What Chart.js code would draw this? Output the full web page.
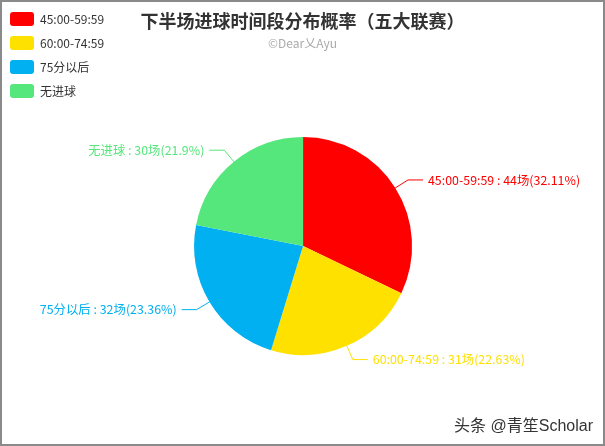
<!DOCTYPE html>
<html>
<head>
<meta charset="utf-8">
<script src="https://cdn.jsdelivr.net/npm/chart.js@4.4.1/dist/chart.umd.min.js"></script>
<style>
  html, body { margin: 0; padding: 0; background: #fff; }
  #wrap { position: relative; width: 605px; height: 446px; overflow: hidden; }
  #frame { position: absolute; left: 0; top: 0; width: 605px; height: 446px; box-sizing: border-box; border: 2px solid #8a8a8a; pointer-events: none; }
  #mark { position: absolute; right: 12px; bottom: 10px; font-family: "Liberation Sans", "Noto Sans CJK SC", sans-serif; font-size: 16px; color: #333; }
</style>
</head>
<body>
<div id="wrap">
  <canvas id="c" width="605" height="446"></canvas>
  <div id="frame"></div>
  <div id="mark">头条 @青笙Scholar</div>
</div>
<script>
const categories = ["45:00-59:59", "60:00-74:59", "75分以后", "无进球"];
const matchCounts = [44, 31, 32, 30];
const percentLabels = ["32.11", "22.63", "23.36", "21.9"];
const sliceColors = ["#ff0000", "#ffe100", "#00b0f0", "#55e67c"];
const titleText = "下半场进球时间段分布概率（五大联赛）";
const subtitleText = "©Dear乂Ayu";

const FONT = '"Noto Sans CJK SC", "Microsoft YaHei", "Noto Sans", sans-serif';
const RIGHT_SPACE = 113;

// empty layout box on the right to balance the legend on the left
const rightSpacer = {
  id: 'rightSpacer',
  beforeInit(chart) {
    const box = {
      position: 'right',
      weight: 0,
      fullSize: true,
      options: {},
      width: 0, height: 0, left: 0, top: 0, right: 0, bottom: 0,
      isHorizontal() { return false; },
      getPadding() { return { left: 0, top: 0, right: 0, bottom: 0 }; },
      update(maxWidth, maxHeight) { this.width = RIGHT_SPACE; this.height = maxHeight; },
      draw() {}
    };
    Chart.layouts.addBox(chart, box);
  }
};

const pieLabels = {
  id: 'pieLabels',
  afterDatasetsDraw(chart) {
    const ctx = chart.ctx;
    const meta = chart.getDatasetMeta(0);
    ctx.save();
    ctx.font = '12.4px ' + FONT;
    ctx.textBaseline = 'middle';
    meta.data.forEach((arc, i) => {
      const p = arc.getProps(['x', 'y', 'startAngle', 'endAngle', 'outerRadius'], true);
      const mid = (p.startAngle + p.endAngle) / 2;
      const dx = Math.cos(mid), dy = Math.sin(mid);
      const x0 = p.x + dx * p.outerRadius, y0 = p.y + dy * p.outerRadius;
      const x1 = p.x + dx * (p.outerRadius + 15), y1 = p.y + dy * (p.outerRadius + 15);
      const side = dx >= 0 ? 1 : -1;
      const x2 = x1 + side * 15;
      ctx.strokeStyle = sliceColors[i];
      ctx.lineWidth = 1;
      ctx.beginPath();
      ctx.moveTo(x0, y0);
      ctx.lineTo(x1, y1);
      ctx.lineTo(x2, y1);
      ctx.stroke();
      ctx.fillStyle = sliceColors[i];
      ctx.textAlign = side > 0 ? 'left' : 'right';
      const txt = categories[i] + ' : ' + matchCounts[i] + '场(' + percentLabels[i] + '%)';
      ctx.fillText(txt, x2 + side * 5, y1);
    });
    ctx.restore();
  }
};

new Chart(document.getElementById('c'), {
  type: 'pie',
  data: {
    labels: categories,
    datasets: [{
      data: matchCounts,
      backgroundColor: sliceColors,
      borderWidth: 0,
      radius: 109
    }]
  },
  options: {
    responsive: false,
    animation: false,
    devicePixelRatio: 1,
    layout: { padding: { top: 2, left: 0, right: 0, bottom: 15 } },
    plugins: {
      tooltip: { enabled: false },
      title: {
        display: true,
        text: titleText,
        color: '#333',
        font: { family: FONT, size: 18, weight: 'bold' },
        padding: { top: 8, bottom: 5 }
      },
      subtitle: {
        display: true,
        text: subtitleText,
        color: '#aaa',
        font: { family: FONT, size: 12 },
        padding: { top: 0, bottom: 10 }
      },
      legend: {
        position: 'left',
        align: 'start',
        fullSize: true,
        labels: {
          boxWidth: 24,
          boxHeight: 14,
          padding: 10,
          color: '#333',
          font: { family: FONT, size: 12 },
          generateLabels(chart) {
            return categories.map((c, i) => ({
              text: c,
              fillStyle: sliceColors[i],
              strokeStyle: sliceColors[i],
              lineWidth: 0,
              borderRadius: 3,
              hidden: false,
              index: i,
              fontColor: '#333'
            }));
          }
        }
      }
    }
  },
  plugins: [rightSpacer, pieLabels]
});
</script>
</body>
</html>
